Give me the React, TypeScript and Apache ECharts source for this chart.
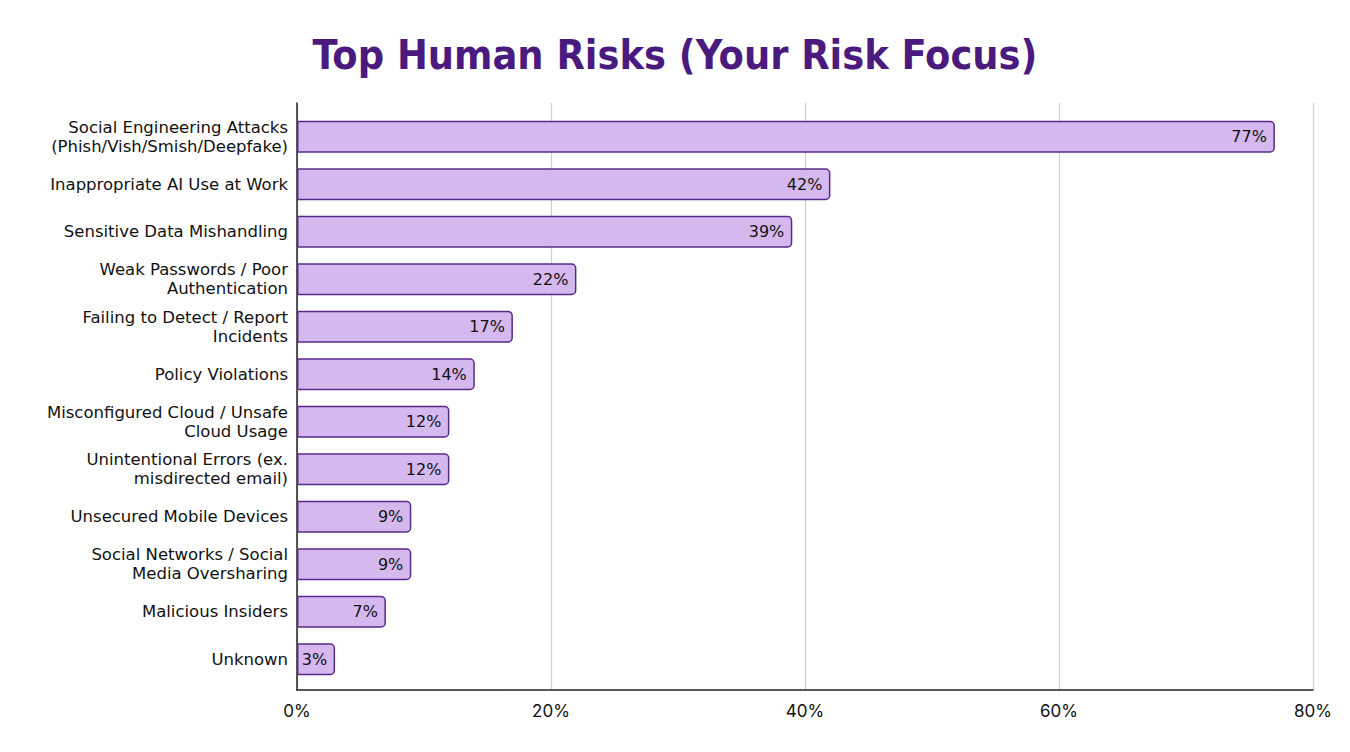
import { useEffect, useRef } from "react";
import * as echarts from "echarts";

// Top human risks, share of respondents (%)
const CATEGORIES = [
  "Social Engineering Attacks\n(Phish/Vish/Smish/Deepfake)",
  "Inappropriate AI Use at Work",
  "Sensitive Data Mishandling",
  "Weak Passwords / Poor\nAuthentication",
  "Failing to Detect / Report\nIncidents",
  "Policy Violations",
  "Misconfigured Cloud / Unsafe\nCloud Usage",
  "Unintentional Errors (ex.\nmisdirected email)",
  "Unsecured Mobile Devices",
  "Social Networks / Social\nMedia Oversharing",
  "Malicious Insiders",
  "Unknown",
];
const VALUES = [77, 42, 39, 22, 17, 14, 12, 12, 9, 9, 7, 3];
const X_MIN = 0;
const X_MAX = 80;
const X_STEP = 20;

const LABEL_FONT = "'DejaVu Sans', 'Noto Sans', sans-serif";
const TITLE_FONT = "'DejaVu Sans Condensed', 'Noto Sans', sans-serif";

export default function App() {
  const chartRef = useRef<HTMLDivElement>(null);

  useEffect(() => {
    if (!chartRef.current) return;
    const chart = echarts.init(chartRef.current, null, { renderer: "svg" });

    const option: echarts.EChartsOption = {
      animation: false,
      backgroundColor: "#ffffff",
      title: {
        text: "Top Human Risks (Your Risk Focus)",
        left: "center",
        top: 29,
        textStyle: {
          fontFamily: TITLE_FONT,
          fontSize: 41,
          fontWeight: "bold",
          color: "#4b1a7e",
        },
      },
      // grid 0 holds the bars, grid 1 is the frame (gridlines, axes)
      grid: [
        { left: 297, width: 1016, top: 113, height: 570 },
        { left: 297, width: 1016, top: 103, height: 587 },
      ],
      xAxis: [
        {
          gridIndex: 0,
          type: "value",
          min: X_MIN,
          max: X_MAX,
          interval: X_STEP,
          show: false,
        },
        {
          gridIndex: 1,
          type: "value",
          min: X_MIN,
          max: X_MAX,
          interval: X_STEP,
          axisLine: { show: true, lineStyle: { color: "#222", width: 1.5 } },
          axisTick: { show: false },
          splitLine: { show: true, lineStyle: { color: "#cfcfcf", width: 1.2 } },
          axisLabel: {
            formatter: "{value}%",
            fontFamily: "Inter, Roboto, sans-serif",
            fontSize: 17,
            color: "#111",
            margin: 12,
          },
        },
      ],
      yAxis: [
        {
          gridIndex: 0,
          type: "category",
          data: CATEGORIES,
          inverse: true,
          axisLine: { show: false },
          axisTick: { show: false },
          splitLine: { show: false },
          axisLabel: {
            fontFamily: LABEL_FONT,
            fontSize: 16.5,
            lineHeight: 19,
            color: "#111",
            margin: 9,
            align: "right",
          },
        },
        {
          gridIndex: 1,
          type: "value",
          min: 0,
          max: 1,
          axisLine: { show: true, lineStyle: { color: "#222", width: 1.5 } },
          axisTick: { show: false },
          axisLabel: { show: false },
          splitLine: { show: false },
        },
      ],
      series: [
        {
          type: "bar",
          xAxisIndex: 0,
          yAxisIndex: 0,
          data: VALUES,
          barWidth: 32,
          z: 3,
          itemStyle: {
            color: "#d4b8ee",
            borderColor: "#5a2a8a",
            borderWidth: 1.5,
            borderRadius: [0, 4, 4, 0],
          },
          label: {
            show: true,
            position: "insideRight",
            distance: 8,
            formatter: "{c}%",
            fontFamily: LABEL_FONT,
            fontSize: 16,
            color: "#111",
          },
        },
      ],
    };

    chart.setOption(option);
    return () => chart.dispose();
  }, []);

  return (
    <div style={{ position: "fixed", left: 0, top: 0, width: 1350, height: 752, background: "#fff" }}>
      <div ref={chartRef} style={{ width: "100%", height: "100%" }} />
    </div>
  );
}
